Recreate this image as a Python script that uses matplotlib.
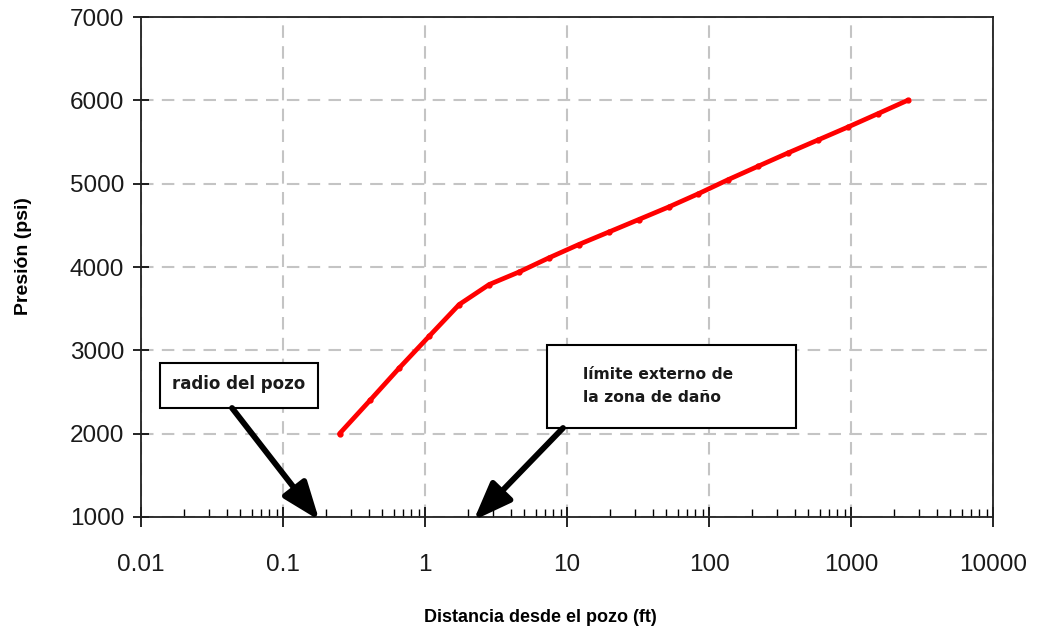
import matplotlib
matplotlib.use("Agg")
import matplotlib.pyplot as plt
from matplotlib.patches import Rectangle
from matplotlib.ticker import LogLocator, FixedLocator, NullFormatter

# distance from the well (ft) and pressure (psi)
distancia = [0.25, 0.41, 0.66, 1.07, 1.74, 2.83, 4.59, 7.46, 12.1, 19.7,
             32.0, 51.9, 84.3, 137, 222, 361, 586, 952, 1546, 2500]
presion = [2000, 2400, 2790, 3170, 3550, 3790, 3940, 4110, 4270, 4420,
           4570, 4720, 4880, 5050, 5210, 5370, 5525, 5680, 5840, 6000]

x_ticks = [0.01, 0.1, 1, 10, 100, 1000, 10000]
x_labels = ["0.01", "0.1", "1", "10", "100", "1000", "10000"]
y_ticks = [1000, 2000, 3000, 4000, 5000, 6000, 7000]

radio_pozo = 0.18
limite_dano = 2.2

plain = ["Liberation Sans", "DejaVu Sans"]
boxfont = ["DejaVu Sans"]

fig = plt.figure(figsize=(10.37, 6.31), dpi=100)
ax = fig.add_axes([0.136, 0.1807, 0.8216, 0.7923])

ax.set_xscale("log")
ax.set_xlim(0.01, 10000)
ax.set_ylim(1000, 7000)

ax.plot(distancia, presion, color="#ff0000", lw=3.4, marker="o", ms=3.5,
        solid_capstyle="round", zorder=3)

# ticks and grid
ax.xaxis.set_major_locator(FixedLocator(x_ticks))
ax.set_xticklabels(x_labels, family=plain, fontsize=17.5, color="#1a1a1a")
ax.xaxis.set_minor_locator(LogLocator(base=10, subs=range(2, 10), numticks=20))
ax.xaxis.set_minor_formatter(NullFormatter())
ax.set_yticks(y_ticks)
ax.set_yticklabels([str(v) for v in y_ticks], family=plain, fontsize=17.5,
                   color="#1a1a1a")
ax.tick_params(axis="x", which="major", direction="inout", length=14, width=1.2,
               pad=20)
ax.tick_params(axis="x", which="minor", direction="in", length=6, width=1.0)
ax.tick_params(axis="y", which="major", direction="inout", length=12, width=1.2,
               pad=6)
ax.grid(True, which="major", color="#c4c4c4", lw=1.5, ls=(0, (6, 4)))
for s in ax.spines.values():
    s.set_linewidth(1.3)
    s.set_color("#202020")

ax.set_ylabel("Presión (psi)", family=plain, fontsize=14, fontweight="bold")
ax.yaxis.set_label_coords(-0.128, 0.522)
ax.set_xlabel("Distancia desde el pozo (ft)", family=plain, fontsize=13,
              fontweight="bold")
ax.xaxis.set_label_coords(0.469, -0.185)

# annotation boxes
ax.add_patch(Rectangle((0.0223, 0.218), 0.1854, 0.090, transform=ax.transAxes,
                       fill=True, facecolor="white", edgecolor="black", lw=1.5,
                       zorder=4))
ax.text(0.115, 0.265, "radio del pozo", transform=ax.transAxes, ha="center",
        va="center", family=boxfont, fontsize=12, fontweight="bold",
        color="#1a1a1a", zorder=5)

ax.add_patch(Rectangle((0.4765, 0.178), 0.2923, 0.166, transform=ax.transAxes,
                       fill=True, facecolor="white", edgecolor="black", lw=1.5,
                       zorder=4))
ax.text(0.519, 0.262, "límite externo de\nla zona de daño", transform=ax.transAxes,
        ha="left", va="center", family=boxfont, fontsize=11.2, fontweight="bold",
        linespacing=1.6, color="#1a1a1a", zorder=5)

arrow = dict(arrowstyle="-|>,head_length=1.05,head_width=0.4", color="black",
             lw=4.2, mutation_scale=22, shrinkA=0, shrinkB=0)
ax.annotate("", xy=(radio_pozo, 960), xycoords="data",
            xytext=(0.1068, 0.218), textcoords="axes fraction",
            arrowprops=arrow, annotation_clip=False, zorder=6)
ax.annotate("", xy=(limite_dano, 960), xycoords="data",
            xytext=(0.4953, 0.178), textcoords="axes fraction",
            arrowprops=arrow, annotation_clip=False, zorder=6)

fig.savefig("out.png", dpi=100)
